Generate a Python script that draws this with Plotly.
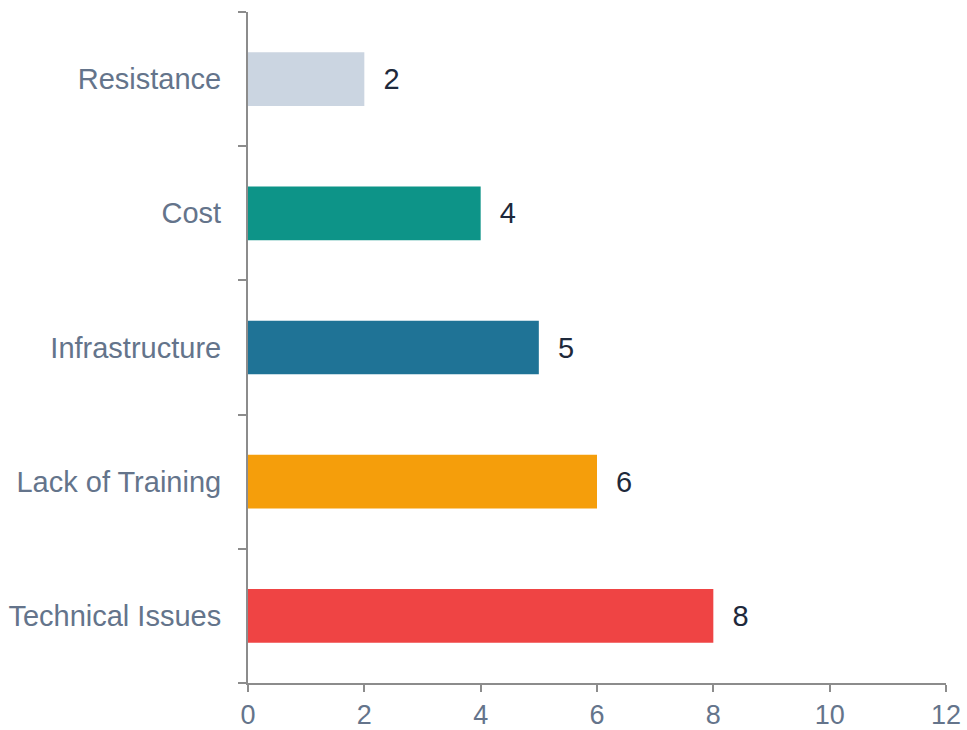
import plotly.graph_objects as go

categories = ["Technical Issues", "Lack of Training", "Infrastructure", "Cost", "Resistance"]
counts = [8, 6, 5, 4, 2]
bar_colors = ["#ef4444", "#f59e0b", "#1f7396", "#0d9488", "#cbd5e1"]

axis_color = "#8c8c8c"
label_color = "#64748b"
font_family = "Liberation Sans, Arial, sans-serif"

fig = go.Figure(
    go.Bar(
        x=counts,
        y=categories,
        orientation="h",
        width=0.4,
        marker=dict(color=bar_colors, line=dict(width=0)),
        text=[f"  {v}" for v in counts],
        textposition="outside",
        textfont=dict(size=29, color="#1e293b", family=font_family),
        cliponaxis=False,
        hoverinfo="x+y",
    )
)

fig.update_layout(
    width=967,
    height=730,
    margin=dict(l=248, r=21, t=12, b=47),
    plot_bgcolor="white",
    paper_bgcolor="white",
    showlegend=False,
    font=dict(family=font_family),
    xaxis=dict(
        range=[0, 12],
        dtick=2,
        automargin=False,
        ticklabeloverflow="allow",
        showgrid=False,
        zeroline=False,
        showline=True,
        linecolor=axis_color,
        linewidth=2,
        ticks="outside",
        ticklen=7,
        tickwidth=2,
        tickcolor=axis_color,
        tickfont=dict(size=27, color=label_color),
    ),
    yaxis=dict(
        type="category",
        categoryorder="array",
        categoryarray=categories,
        automargin=False,
        showgrid=False,
        zeroline=False,
        showline=True,
        linecolor=axis_color,
        linewidth=2,
        ticks="outside",
        tickson="boundaries",
        ticklen=8,
        tickwidth=2,
        tickcolor=axis_color,
        ticklabelstandoff=19,
        tickfont=dict(size=29, color=label_color),
    ),
)

# drop the default page margin so the 967x730 figure fills the window exactly
fig.write_html(
    "out.html",
    config={"displayModeBar": False},
    post_script="document.body.style.margin='0';document.body.style.overflow='hidden';",
)
